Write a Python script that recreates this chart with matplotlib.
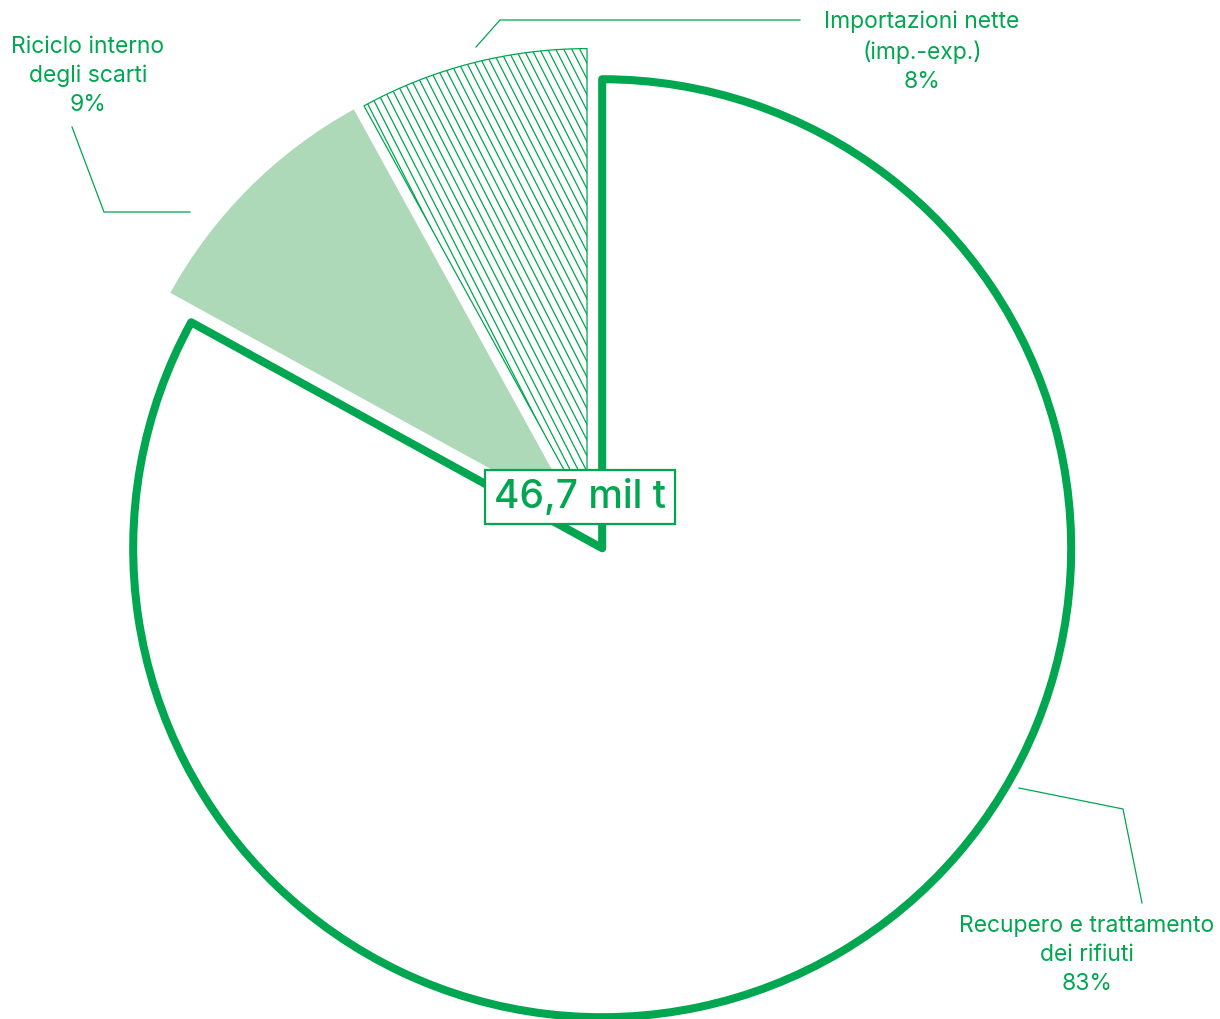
import numpy as np
import matplotlib
matplotlib.use("Agg")
import matplotlib.pyplot as plt
from matplotlib.collections import LineCollection

# Composition of the 46.7 Mt feed (shares in %)
categories = ["Importazioni nette\n(imp.-exp.)", "Riciclo interno\ndegli scarti",
              "Recupero e trattamento\ndei rifiuti"]
shares = [8, 9, 83]
total_label = "46,7 mil t"

GREEN = "#00A650"
LIGHT_GREEN = "#ADD9B8"

W, H = 1220, 1019
fig = plt.figure(figsize=(W / 100, H / 100), dpi=100)
ax = fig.add_axes([0, 0, 1, 1])

plt.rcParams["font.family"] = ["Inter", "DejaVu Sans"]

radius = 469
gap = 20  # offset of every wedge from the centre, in data units
center = (592, H - 531)
wedges, _ = ax.pie(shares, radius=radius, center=center, startangle=90,
                   counterclock=True, explode=[gap] * len(shares),
                   wedgeprops=dict(linewidth=0))
ax.set_xlim(0, W)
ax.set_ylim(0, H)
ax.set_aspect("equal")
ax.axis("off")

imp, ric, rec = wedges
# net imports: slightly smaller white wedge, thin outline, diagonal hatching
imp.set_radius(radius - 6)
imp.set_facecolor("white")
imp.set_edgecolor(GREEN)
imp.set_linewidth(0.9)
imp.set_zorder(2)

# internal scrap recycling: flat light green
ric.set_radius(radius - 4)
ric.set_facecolor(LIGHT_GREEN)
ric.set_edgecolor("none")

# waste recovery: white wedge with a heavy outline
rec.set_facecolor("white")
rec.set_edgecolor(GREEN)
rec.set_linewidth(5.8)
rec.set_joinstyle("round")
rec.set_zorder(3)

# diagonal hatch lines clipped to the imports wedge
bb = imp.get_path().get_extents(imp.get_patch_transform())
ang = np.deg2rad(63)
dx_step = 8.0
run = (bb.height + 10) / np.tan(ang)
xs = np.arange(bb.x0 - run - 10, bb.x1 + 10, dx_step)
segs = [[(x, bb.y1 + 5), (x + run, bb.y0 - 5)] for x in xs]
hatch = LineCollection(segs, colors=GREEN, linewidths=0.9, zorder=2.5)
ax.add_collection(hatch)
hatch.set_clip_path(imp)

# total in a boxed label near the centre
ax.text(580, H - 497, total_label, ha="center", va="center", fontsize=28,
        fontweight="medium", color=GREEN, zorder=5,
        bbox=dict(boxstyle="square,pad=0.22", facecolor="white",
                  edgecolor=GREEN, linewidth=1.6))

# category labels with leader lines
label_style = dict(ha="center", va="center", fontsize=16.5, color=GREEN,
                   linespacing=1.42)
labels = [f"{c}\n{s}%" for c, s in zip(categories, shares)]
ax.text(922, H - 52, labels[0], **label_style)
ax.text(88, H - 76, labels[1], **label_style)
ax.text(1087, H - 955, labels[2], **label_style)

leaders = [
    [(476, 47), (500, 20), (800, 20)],
    [(72, 127), (104, 212), (190, 212)],
    [(1019, 788), (1123, 809), (1142, 903)],
]
for pts in leaders:
    xs_l = [p[0] for p in pts]
    ys_l = [H - p[1] for p in pts]
    ax.plot(xs_l, ys_l, color=GREEN, linewidth=0.9, zorder=4)

fig.savefig("out.png", dpi=100)
